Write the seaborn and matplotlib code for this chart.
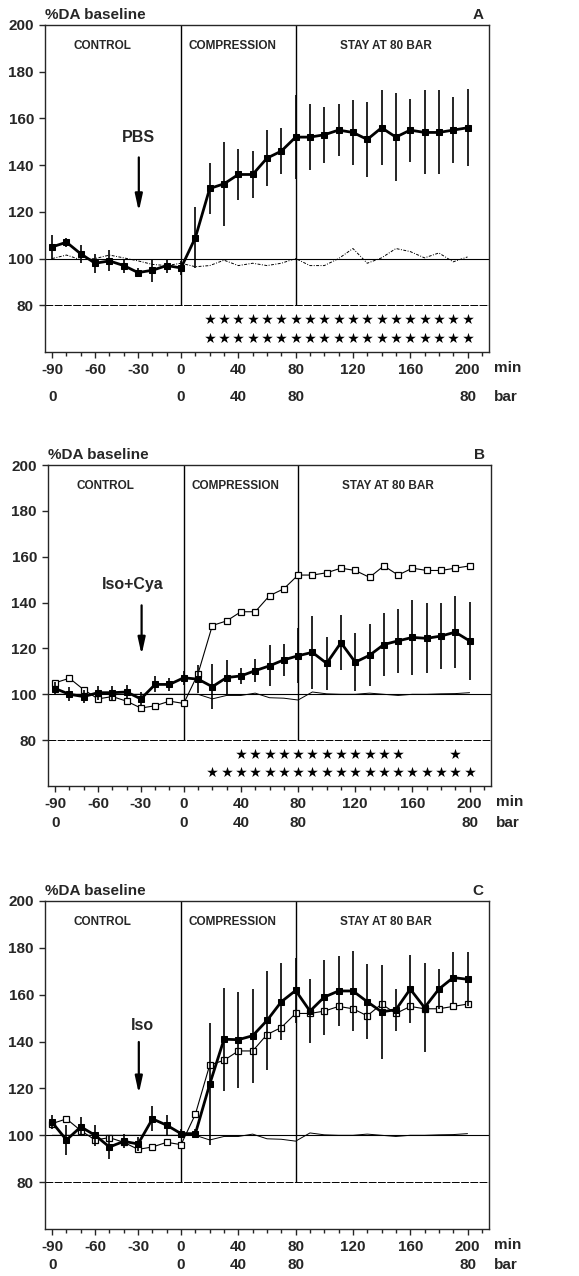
import numpy as np
import matplotlib
matplotlib.use('Agg')
import matplotlib.pyplot as plt
from matplotlib.ticker import MultipleLocator
import seaborn as sns

# время отбора проб (мин)
time_min = [-90, -80, -70, -60, -50, -40, -30, -20, -10, 0,
            10, 20, 30, 40, 50, 60, 70, 80, 90, 100,
            110, 120, 130, 140, 150, 160, 170, 180, 190, 200]

# A: PBS (закрашенные квадраты), также открытые квадраты на B и C
pbs_mean = [105, 107, 102, 98, 99, 97, 94, 95, 97, 96,
            109, 130, 132, 136, 136, 143, 146, 152, 152, 153,
            155, 154, 151, 156, 152, 155, 154, 154, 155, 156]
pbs_err = [5, 2, 4, 4, 4.5, 3, 2, 5, 3, 3,
           13, 11, 18, 11, 10, 12, 10, 18, 14, 12,
           11, 14, 16, 16, 19, 13.5, 18, 18, 14, 16.5]

# тонкая контрольная линия
ctrl_a = [100, 101.5, 99.5, 100, 101.5, 100.3, 99, 97.5, 97, 98,
          96.5, 97, 99.3, 97, 98, 97, 98, 100, 97, 97,
          100, 104.3, 98, 100.3, 104.3, 103, 100.3, 102.4, 98.6, 100.7]
ctrl_bc = [100, 100, 100, 100, 100, 100, 100, 100, 100, 100,
           100, 98, 99.5, 99.5, 100.5, 98.5, 98.3, 97.5, 101, 100.2,
           100, 100, 100.5, 100, 99.5, 100, 100, 100.2, 100.3, 100.7]

# B: Iso+Cya
isocya_mean = [102.5, 100, 99, 100.7, 100.7, 101, 98, 104.3, 104.3, 107.2,
               106.6, 103.3, 107.3, 108, 110.3, 112.4, 115, 116.8, 118.3, 113.5,
               122.5, 114, 117, 121.7, 123.3, 124.8, 124.4, 125.4, 127.1, 123.3]
isocya_err = [3, 3, 3, 3, 3, 3, 3, 3.5, 3, 3,
              6, 9.7, 7.5, 3.5, 5, 9, 7, 12, 16, 11.6,
              12, 12.7, 13.5, 13.7, 14, 16.5, 15.3, 14.4, 15.6, 17]

# C: Iso
iso_mean = [105.5, 98, 103.6, 100, 95, 97.4, 96.3, 107, 104.3, 100.7,
            100.7, 121.8, 141, 140.8, 142.5, 149, 157, 161.8, 153, 159,
            161.6, 161.6, 157, 152.7, 153.6, 162.4, 154.5, 162.4, 167.3, 166.6]
iso_err = [3, 6.4, 4, 4.5, 5, 3, 3, 5.3, 4.5, 2,
           2, 26, 22, 20.5, 20, 21, 16.5, 14, 13.5, 16,
           15, 17, 16, 20, 9, 14.5, 19, 8.5, 11, 11.5]

# звёздочки значимости
stars_a_top = [20, 30, 40, 50, 60, 70, 80, 90, 100, 110, 120, 130, 140, 150, 160, 170, 180, 190, 200]
stars_a_bot = [20, 30, 40, 50, 60, 70, 80, 90, 100, 110, 120, 130, 140, 150, 160, 170, 180, 190, 200]
stars_b_top = [40, 50, 60, 70, 80, 90, 100, 110, 120, 130, 140, 150, 190]
stars_b_bot = [20, 30, 40, 50, 60, 70, 80, 90, 100, 110, 120, 130, 140, 150, 160, 170, 180, 190, 200]

# подписи осей
xticks_min = [-90, -60, -30, 0, 40, 80, 120, 160, 200]
bar_pos = [-90, 0, 40, 80, 200]
bar_labels = ['0', '0', '40', '80', '80']
yticks = [80, 100, 120, 140, 160, 180, 200]
phases = ['CONTROL', 'COMPRESSION', 'STAY AT 80 BAR']
phase_x = [-55, 36, 143]

sns.set_style('ticks')
plt.rcParams['font.family'] = ['Liberation Sans', 'DejaVu Sans']
plt.rcParams['font.weight'] = 'bold'

W, H = 579, 1276
fig = plt.figure(figsize=(W / 100, H / 100), dpi=100)

# расположение панелей в пикселях: (left, top, right, bottom), смещение строки "bar"
panels = [
    dict(box=(45, 25, 489, 352), letter='A', bar_off=45, drug='PBS', drug_x=-30, drug_y=152,
         arrow=(144.5, 119), mean=pbs_mean, err=pbs_err, ctrl=ctrl_a, ctrl_ls=(0, (3, 1.5, 1, 1.5)),
         open_mean=None, stars=(stars_a_top, stars_a_bot)),
    dict(box=(48, 465, 491, 786), letter='B', bar_off=37, drug='Iso+Cya', drug_x=-36, drug_y=148,
         arrow=(140, 116), mean=isocya_mean, err=isocya_err, ctrl=ctrl_bc, ctrl_ls='-',
         open_mean=pbs_mean, stars=(stars_b_top, stars_b_bot)),
    dict(box=(45, 901, 489, 1229), letter='C', bar_off=36, drug='Iso', drug_x=-27, drug_y=147,
         arrow=(141, 116.6), mean=iso_mean, err=iso_err, ctrl=ctrl_bc, ctrl_ls='-',
         open_mean=pbs_mean, stars=None),
]

for p in panels:
    l, t, r, b = p['box']
    ax = fig.add_axes([l / W, 1 - b / H, (r - l) / W, (b - t) / H])
    ax.set_xlim(-95, 215)
    ax.set_ylim(60, 200)

    # опорные линии и границы фаз
    ax.axhline(100, color='black', lw=0.8, zorder=1)
    ax.axhline(80, color='black', lw=0.7, ls=(0, (8, 1.5)), zorder=1)
    ax.vlines([0, 80], 80, 200, color='black', lw=1.0, zorder=1)

    # тонкая контрольная кривая
    sns.lineplot(x=time_min, y=p['ctrl'], ax=ax, color='black', lw=0.7,
                 linestyle=p['ctrl_ls'], zorder=2)

    # открытые квадраты (PBS для сравнения)
    if p['open_mean'] is not None:
        sns.lineplot(x=time_min, y=p['open_mean'], ax=ax, color='black', lw=0.8,
                     marker='s', markersize=5, markerfacecolor='white',
                     markeredgecolor='black', markeredgewidth=0.9, zorder=3)

    # закрашенные квадраты с ошибками
    m = np.array(p['mean'])
    e = np.array(p['err'])
    ax.vlines(time_min, m - e, m + e, color='black', lw=1.2, zorder=4)
    sns.lineplot(x=time_min, y=p['mean'], ax=ax, color='black', lw=2.0,
                 marker='s', markersize=5, markerfacecolor='black',
                 markeredgecolor='black', zorder=5)

    # звёздочки
    if p['stars'] is not None:
        for row_y, xs in zip([74, 66], p['stars']):
            sns.scatterplot(x=xs, y=[row_y] * len(xs), ax=ax, marker='*',
                            color='black', s=65, linewidth=0, zorder=5)

    # фазы
    for name, px in zip(phases, phase_x):
        ax.text(px, 191, name, ha='center', va='center', fontsize=8.5)

    # введение препарата
    ax.text(p['drug_x'], p['drug_y'], p['drug'], ha='center', va='center', fontsize=11.5)
    ax.annotate('', xy=(-29.5, p['arrow'][1]), xytext=(-29.5, p['arrow'][0]),
                arrowprops=dict(arrowstyle='-|>,head_length=1.0,head_width=0.22',
                                color='black', lw=1.6))

    # оси
    ax.set_xticks(xticks_min)
    ax.set_xticklabels([str(v) for v in xticks_min])
    ax.xaxis.set_minor_locator(MultipleLocator(10))
    ax.set_yticks(yticks)
    ax.set_yticklabels([str(v) for v in yticks])
    ax.tick_params(axis='both', which='major', direction='out', length=4, width=1,
                   labelsize=11, pad=4)
    ax.tick_params(axis='x', which='minor', direction='out', length=3, width=1)
    for s in ax.spines.values():
        s.set_linewidth(1.0)
        s.set_visible(True)
    ax.set_xlabel('')
    ax.set_ylabel('')

    height_px = b - t
    ax.text(1.012, -16 / height_px, 'min', transform=ax.transAxes, ha='left', va='center', fontsize=11)
    for bx, bl in zip(bar_pos, bar_labels):
        ax.text(bx, -p['bar_off'] / height_px, bl, transform=ax.get_xaxis_transform(),
                ha='center', va='center', fontsize=11)
    ax.text(1.012, -p['bar_off'] / height_px, 'bar', transform=ax.transAxes,
            ha='left', va='center', fontsize=11)

    ax.text(0.0, 1.008, '%DA baseline', transform=ax.transAxes, ha='left', va='bottom', fontsize=11)
    ax.text(0.975, 1.008, p['letter'], transform=ax.transAxes, ha='center', va='bottom', fontsize=11)

fig.savefig('out.png', dpi=100)
print('готово')
